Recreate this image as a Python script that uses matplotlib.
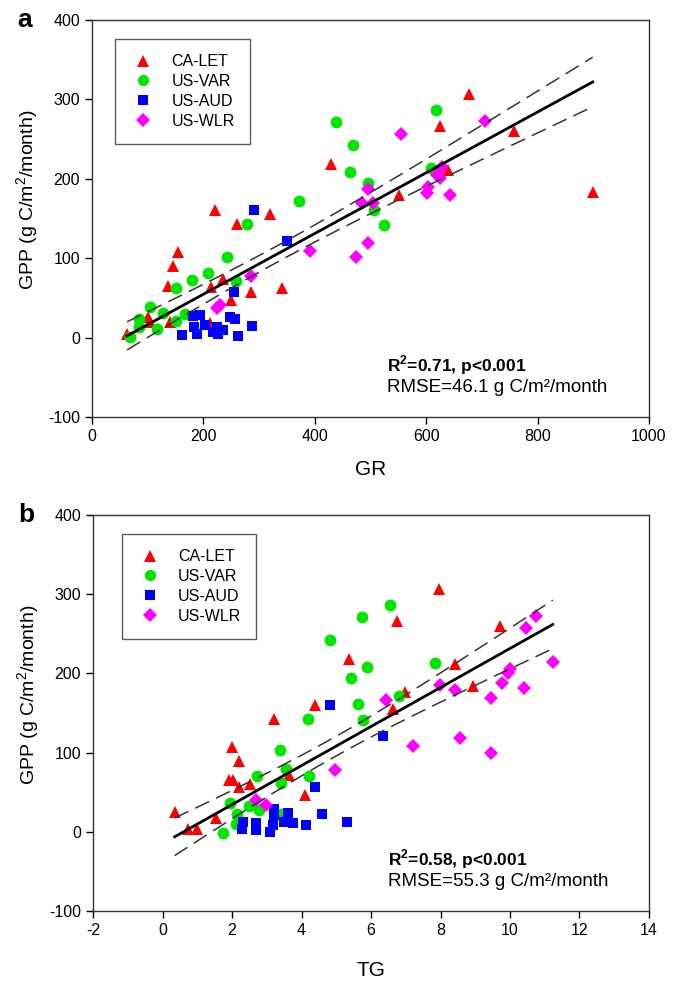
import numpy as np
import matplotlib
matplotlib.use('Agg')
import matplotlib.pyplot as plt
from matplotlib.lines import Line2D

plt.rcParams['font.family'] = ['Liberation Sans', 'DejaVu Sans']
plt.rcParams['mathtext.fontset'] = 'custom'
plt.rcParams['mathtext.rm'] = 'Liberation Sans'
plt.rcParams['mathtext.bf'] = 'Liberation Sans:bold'
plt.rcParams['axes.unicode_minus'] = False

sites = ['CA-LET', 'US-VAR', 'US-AUD', 'US-WLR']
colors = ['#ff0000', '#00e600', '#0000ff', '#ff00ff']
markers = ['^', 'o', 's', 'D']
msizes = [9, 8.5, 7.5, 7.5]

# panel a: GR vs GPP
gr_let = [63, 101, 104, 140, 136, 146, 155, 211, 213, 220, 236, 249, 260, 285, 320, 342, 429, 552, 625, 640, 677, 758, 899]
gpp_let_a = [4, 26, 19, 19, 65, 90, 108, 18, 64, 161, 74, 47, 143, 57, 156, 62, 218, 179, 267, 211, 307, 260, 183]
gr_var = [68, 84, 85, 104, 116, 127, 151, 151, 167, 179, 209, 242, 258, 278, 372, 438, 464, 468, 496, 506, 525, 608, 618]
gpp_var_a = [1, 13, 24, 39, 11, 31, 63, 21, 30, 73, 81, 102, 71, 143, 172, 271, 209, 242, 195, 161, 142, 213, 286]
gr_aud = [162, 182, 183, 188, 193, 203, 217, 224, 227, 235, 248, 255, 257, 262, 288, 291, 350]
gpp_aud_a = [3, 27, 13, 4, 29, 16, 7, 13, 4, 9, 26, 58, 24, 2, 15, 161, 121]
gr_wlr = [224, 230, 286, 391, 474, 484, 495, 496, 505, 554, 601, 604, 620, 625, 628, 643, 706]
gpp_wlr_a = [37, 41, 78, 109, 101, 169, 119, 187, 170, 257, 182, 190, 205, 201, 215, 179, 273]

# panel b: TG vs GPP
tg_let = [0.35, 0.73, 0.99, 1.53, 1.91, 2.04, 2.0, 2.19, 2.20, 2.24, 2.52, 3.22, 3.65, 4.09, 4.40, 5.36, 6.63, 6.75, 6.99, 7.95, 8.42, 8.93, 9.72]
gpp_let_b = [25, 4, 3, 17, 65, 65, 107, 57, 90, 16, 61, 143, 72, 46, 160, 218, 155, 266, 176, 306, 212, 184, 260]
tg_var = [1.74, 1.93, 2.12, 2.14, 2.25, 2.50, 2.71, 2.79, 3.37, 3.40, 3.41, 3.56, 4.18, 4.21, 4.83, 5.41, 5.63, 5.74, 5.78, 5.89, 6.55, 6.82, 7.83]
gpp_var_b = [-1, 37, 10, 22, 12, 32, 71, 27, 103, 62, 22, 79, 143, 70, 242, 194, 161, 271, 141, 208, 287, 172, 213]
tg_aud = [2.29, 2.31, 2.68, 2.70, 3.08, 3.17, 3.22, 3.20, 3.49, 3.61, 3.75, 4.12, 4.40, 4.58, 4.83, 5.30, 6.34]
gpp_aud_b = [3, 13, 11, 2, 0, 8, 29, 21, 13, 24, 11, 8, 57, 22, 160, 13, 121]
tg_wlr = [2.70, 2.98, 4.96, 6.42, 7.20, 7.99, 8.43, 8.55, 9.44, 9.46, 9.78, 9.94, 10.01, 10.40, 10.47, 10.75, 11.23]
gpp_wlr_b = [40, 34, 78, 167, 108, 186, 179, 118, 169, 100, 188, 200, 206, 182, 257, 273, 214]

stats_a = ['R$^\\mathbf{2}$=0.71, p<0.001', 'RMSE=46.1 g C/m\u00b2/month']
stats_b = ['R$^\\mathbf{2}$=0.58, p<0.001', 'RMSE=55.3 g C/m\u00b2/month']


def fit_band(x, y):
    x = np.asarray(x, float)
    y = np.asarray(y, float)
    b, a = np.polyfit(x, y, 1)
    res = y - (a + b * x)
    n = len(x)
    s = np.sqrt(np.sum(res ** 2) / (n - 2))
    xs = np.linspace(x.min(), x.max(), 100)
    half = 1.99 * s * np.sqrt(1 / n + (xs - x.mean()) ** 2 / np.sum((x - x.mean()) ** 2))
    ys = a + b * xs
    return xs, ys, ys - half, ys + half


def panel(ax, xs_list, ys_list, xlabel, xlim, xticks, stats, letter, leg_loc, xpad):
    for xv, yv, c, m, ms, lab in zip(xs_list, ys_list, colors, markers, msizes, sites):
        ax.plot(xv, yv, linestyle='none', marker=m, color=c, markersize=ms,
                markeredgewidth=0, label=lab, zorder=3)
    xall = np.concatenate([np.asarray(v, float) for v in xs_list])
    yall = np.concatenate([np.asarray(v, float) for v in ys_list])
    fx, fy, lo, hi = fit_band(xall, yall)
    ax.plot(fx, fy, color='black', lw=2.0, zorder=4)
    ax.plot(fx, lo, color='#333333', lw=1.1, ls=(0, (10, 5)), zorder=4)
    ax.plot(fx, hi, color='#333333', lw=1.1, ls=(0, (10, 5)), zorder=4)

    ax.set_xlim(xlim)
    ax.set_ylim(-100, 400)
    ax.set_xticks(xticks)
    ax.set_yticks([-100, 0, 100, 200, 300, 400])
    ax.tick_params(direction='out', length=5, width=1, labelsize=11.5)
    for sp in ax.spines.values():
        sp.set_linewidth(1.0)
        sp.set_color('#333333')
    ax.set_xlabel(xlabel, fontsize=15, labelpad=xpad)
    # y label sits a little above the axis centre in the original
    ax.text(-0.116, 0.547, 'GPP (g C/m$^2$/month)', transform=ax.transAxes,
            fontsize=14, rotation=90, ha='center', va='center')

    ax.text(0.53, 0.13, stats[0], transform=ax.transAxes, fontsize=12.5,
            fontweight='bold', va='center', ha='left')
    ax.text(0.53, 0.075, stats[1], transform=ax.transAxes, fontsize=13.5,
            va='center', ha='left')
    ax.text(-0.135, 1.0, letter, transform=ax.transAxes, fontsize=19,
            fontweight='bold', va='center', ha='left')

    handles = [Line2D([], [], linestyle='none', marker=m, color=c, markersize=ms * 0.95,
                      markeredgewidth=0) for c, m, ms in zip(colors, markers, msizes)]
    leg = ax.legend(handles, sites, loc='upper left', bbox_to_anchor=leg_loc,
                    fontsize=11.5, frameon=True, fancybox=False, edgecolor='#333333',
                    handletextpad=0.95, labelspacing=0.3, borderpad=0.95,
                    handlelength=1.6, borderaxespad=0)
    leg.get_frame().set_linewidth(1.0)


fig = plt.figure(figsize=(6.79, 9.83), dpi=100)
ax1 = fig.add_axes([0.1355, 0.5758, 0.8203, 0.4039])
ax2 = fig.add_axes([0.137, 0.0732, 0.8188, 0.4029])

panel(ax1, [gr_let, gr_var, gr_aud, gr_wlr], [gpp_let_a, gpp_var_a, gpp_aud_a, gpp_wlr_a],
      'GR', (0, 1000), [0, 200, 400, 600, 800, 1000], stats_a, 'a', (0.042, 0.952), 12)
panel(ax2, [tg_let, tg_var, tg_aud, tg_wlr], [gpp_let_b, gpp_var_b, gpp_aud_b, gpp_wlr_b],
      'TG', (-2, 14), [-2, 0, 2, 4, 6, 8, 10, 12, 14], stats_b, 'b', (0.052, 0.952), 17)

fig.savefig('out.png', dpi=100)
